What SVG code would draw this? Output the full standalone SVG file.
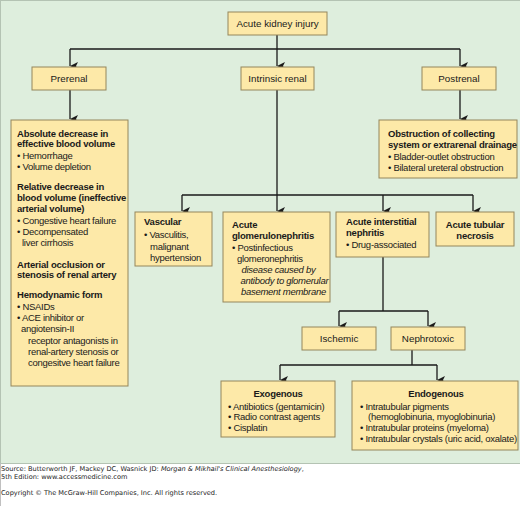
<svg xmlns="http://www.w3.org/2000/svg" width="520" height="506" viewBox="0 0 520 506">
<defs>
<marker id="ah" markerUnits="userSpaceOnUse" markerWidth="8" markerHeight="8" viewBox="0 0 8 8" refX="4" refY="8" orient="auto">
<path d="M0,0 L4,2 L8,0 L4,8 Z" fill="#1a1a1a"/>
</marker>
<style>
.box{fill:#fde9a8;stroke:#94865c;stroke-width:1}
.t{font-family:"Liberation Sans",Arial,sans-serif;font-size:9.5px;letter-spacing:-0.28px;fill:#1a1a1a}
.h{font-family:"Liberation Sans",Arial,sans-serif;font-size:9.8px;fill:#1a1a1a;text-anchor:middle}
.b{font-weight:bold;letter-spacing:-0.22px}
.i{font-style:italic}
.c{stroke:#1a1a1a;stroke-width:1.3;fill:none}
.f{font-family:"DejaVu Sans",Verdana,sans-serif;font-size:6.6px;fill:#222}
</style>
</defs>
<rect x="0" y="0" width="520" height="506" fill="#ffffff"/>
<rect x="0.5" y="0.5" width="521" height="463" fill="#deeedd" stroke="#b4c3b3" stroke-width="1"/>
<line x1="0.5" y1="463" x2="0.5" y2="506" stroke="#c0c0c0" stroke-width="1"/>

<g id="connectors">
<path class="c" d="M277,35 V49 M70,49 H460"/>
<path class="c" d="M70,49 V66" marker-end="url(#ah)"/>
<path class="c" d="M277,49 V66" marker-end="url(#ah)"/>
<path class="c" d="M460,49 V66" marker-end="url(#ah)"/>
<path class="c" d="M70,90 V119" marker-end="url(#ah)"/>
<path class="c" d="M460,90 V119" marker-end="url(#ah)"/>
<path class="c" d="M277,90 V195 M182,195 H473"/>
<path class="c" d="M182,195 V211" marker-end="url(#ah)"/>
<path class="c" d="M277,195 V211" marker-end="url(#ah)"/>
<path class="c" d="M383,195 V211" marker-end="url(#ah)"/>
<path class="c" d="M473,195 V211" marker-end="url(#ah)"/>
<path class="c" d="M383,257 V311 M339,311 H428"/>
<path class="c" d="M339,311 V326" marker-end="url(#ah)"/>
<path class="c" d="M428,311 V326" marker-end="url(#ah)"/>
<path class="c" d="M412,350 V365 M280,365 H437"/>
<path class="c" d="M280,365 V380" marker-end="url(#ah)"/>
<path class="c" d="M437,365 V380" marker-end="url(#ah)"/>
</g>

<g id="aki">
<rect class="box" x="228" y="12" width="99" height="23"/>
<text class="h" x="277.5" y="27">Acute kidney injury</text>
</g>
<g id="prerenal">
<rect class="box" x="32" y="67" width="74" height="23"/>
<text class="h" x="69" y="82">Prerenal</text>
</g>
<g id="intrinsic">
<rect class="box" x="241" y="67" width="73" height="23"/>
<text class="h" x="277.5" y="82">Intrinsic renal</text>
</g>
<g id="postrenal">
<rect class="box" x="422" y="67" width="74" height="23"/>
<text class="h" x="459" y="82">Postrenal</text>
</g>

<g id="prerenal-causes">
<rect class="box" x="11" y="120" width="117" height="266"/>
<text class="t b" x="17" y="136.5">Absolute decrease in</text>
<text class="t b" x="17" y="147">effective blood volume</text>
<text class="t" x="17" y="159">• Hemorrhage</text>
<text class="t" x="17" y="170">• Volume depletion</text>
<text class="t b" x="17" y="190">Relative decrease in</text>
<text class="t b" x="17" y="201">blood volume (ineffective</text>
<text class="t b" x="17" y="212">arterial volume)</text>
<text class="t" x="17" y="224">• Congestive heart failure</text>
<text class="t" x="17" y="235">• Decompensated</text>
<text class="t" x="22" y="246">liver cirrhosis</text>
<text class="t b" x="17" y="267.5">Arterial occlusion or</text>
<text class="t b" x="17" y="278">stenosis of renal artery</text>
<text class="t b" x="17" y="298">Hemodynamic form</text>
<text class="t" x="17" y="310">• NSAIDs</text>
<text class="t" x="17" y="321">• ACE inhibitor or</text>
<text class="t" x="21" y="332">angiotensin-II</text>
<text class="t" x="28" y="343.5">receptor antagonists in</text>
<text class="t" x="28" y="354.5">renal-artery stenosis or</text>
<text class="t" x="28" y="365.5">congesitve heart failure</text>
</g>

<g id="postrenal-causes">
<rect class="box" x="379" y="120" width="138" height="58"/>
<text class="t b" x="388" y="137">Obstruction of collecting</text>
<text class="t b" x="388" y="147.5">system or extrarenal drainage</text>
<text class="t" x="388" y="159.5">• Bladder-outlet obstruction</text>
<text class="t" x="388" y="171">• Bilateral ureteral obstruction</text>
</g>

<g id="vascular">
<rect class="box" x="135" y="212" width="77" height="54"/>
<text class="t b" x="144" y="225">Vascular</text>
<text class="t" x="144" y="237.5">• Vasculitis,</text>
<text class="t" x="150" y="249.5">malignant</text>
<text class="t" x="150" y="260.5">hypertension</text>
</g>

<g id="glomerulonephritis">
<rect class="box" x="223" y="212" width="107" height="90"/>
<text class="t b" x="232" y="228">Acute</text>
<text class="t b" x="232" y="239">glomerulonephritis</text>
<text class="t" x="232" y="251">• Postinfectious</text>
<text class="t" x="237" y="261.5">glomeronephritis</text>
<text class="t i" x="241.5" y="273">disease caused by</text>
<text class="t i" x="240.5" y="283.5">antibody to glomerular</text>
<text class="t i" x="241" y="295">basement membrane</text>
</g>

<g id="interstitial">
<rect class="box" x="336" y="212" width="93" height="45"/>
<text class="t b" x="346" y="224.5">Acute interstitial</text>
<text class="t b" x="346" y="236">nephritis</text>
<text class="t" x="346" y="248">• Drug-associated</text>
</g>

<g id="tubular">
<rect class="box" x="436" y="212" width="78" height="34"/>
<text class="t b" x="475" y="227.5" text-anchor="middle">Acute tubular</text>
<text class="t b" x="475" y="239" text-anchor="middle">necrosis</text>
</g>

<g id="ischemic">
<rect class="box" x="302" y="327" width="74" height="23"/>
<text class="h" x="339" y="342">Ischemic</text>
</g>
<g id="nephrotoxic">
<rect class="box" x="391" y="327" width="74" height="23"/>
<text class="h" x="428" y="342">Nephrotoxic</text>
</g>

<g id="exogenous">
<rect class="box" x="221" y="381" width="114" height="56"/>
<text class="t b" x="278" y="397" text-anchor="middle">Exogenous</text>
<text class="t" x="228" y="409.5">• Antibiotics (gentamicin)</text>
<text class="t" x="228" y="420">• Radio contrast agents</text>
<text class="t" x="228" y="431">• Cisplatin</text>
</g>

<g id="endogenous">
<rect class="box" x="352" y="381" width="166" height="69"/>
<text class="t b" x="436" y="397" text-anchor="middle">Endogenous</text>
<text class="t" x="360" y="409.5">• Intratubular pigments</text>
<text class="t" x="368" y="420">(hemoglobinuria, myoglobinuria)</text>
<text class="t" x="360" y="431">• Intratubular proteins (myeloma)</text>
<text class="t" x="360" y="442">• Intratubular crystals (uric acid, oxalate)</text>
</g>

<g id="footer">
<text class="f" x="1" y="471">Source: Butterworth JF, Mackey DC, Wasnick JD: <tspan font-style="italic">Morgan &amp; Mikhail's Clinical Anesthesiology</tspan>,</text>
<text class="f" x="1" y="478.5">5th Edition: www.accessmedicine.com</text>
<text class="f" x="1" y="495">Copyright © The McGraw-Hill Companies, Inc. All rights reserved.</text>
</g>
</svg>
